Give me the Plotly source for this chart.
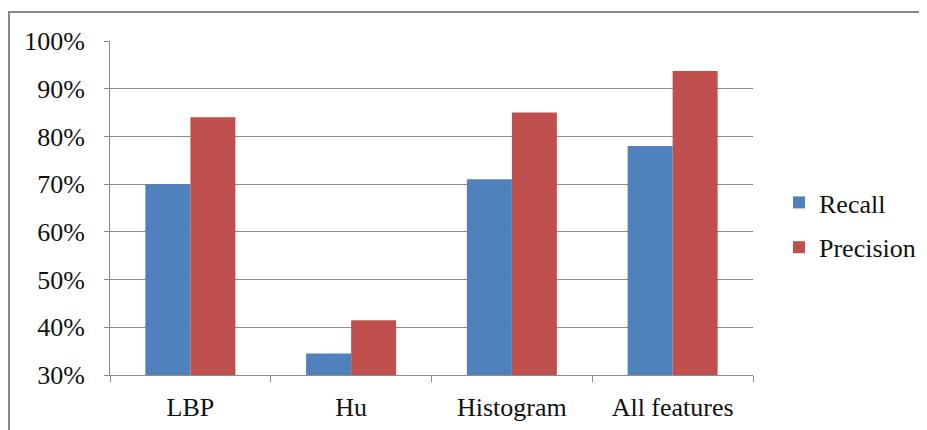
import plotly.graph_objects as go

categories = ["LBP", "Hu", "Histogram", "All features"]
recall = [70, 34.5, 71, 78]
precision = [84, 41.5, 85, 93.7]
y_ticks = [30, 40, 50, 60, 70, 80, 90, 100]
y_tick_labels = [f"{v}%" for v in y_ticks]

FONT = "Liberation Serif"
FS = 26
GRID = "#8c8c8c"
OFF = 8  # page body margin

fig = go.Figure()
fig.add_trace(go.Bar(x=categories, y=recall, name="Recall", marker_color="#4F81BD",
                     marker_line_width=0, legendgroup="a"))
fig.add_trace(go.Bar(x=categories, y=precision, name="Precision", marker_color="#C0504D",
                     marker_line_width=0, legendgroup="b"))

W, H = 927 - OFF, 430 - OFF
L, T = 110 - OFF, 41 - OFF
pw, ph = 643, 334
R, B = W - L - pw, H - T - ph

fig.update_layout(
    width=W, height=H,
    margin=dict(l=L, r=R, t=T, b=B, autoexpand=False),
    paper_bgcolor="white", plot_bgcolor="white",
    barmode="group", bargap=0.44, bargroupgap=0,
    font=dict(family=FONT, size=FS, color="#111111"),
    showlegend=True,
    legend=dict(xref="container", yref="container",
                x=(779 - OFF) / W, y=1 - (225 - OFF) / H, xanchor="left", yanchor="middle",
                font=dict(family=FONT, size=FS, color="#111111"),
                traceorder="grouped", tracegroupgap=8, itemwidth=30,
                bgcolor="rgba(0,0,0,0)"),
    xaxis=dict(type="category", tickson="boundaries", ticks="outside", ticklen=6,
               tickcolor=GRID, showline=True, linecolor=GRID, linewidth=1,
               showgrid=False, tickfont=dict(family=FONT, size=FS, color="#111111"),
               ticklabelstandoff=9, automargin=False),
    yaxis=dict(range=[30, 100], tickvals=y_ticks, ticktext=y_tick_labels,
               ticks="outside", ticklen=5, tickcolor=GRID,
               showline=True, linecolor=GRID, linewidth=1,
               showgrid=True, gridcolor=GRID, gridwidth=1, zeroline=False,
               tickfont=dict(family=FONT, size=FS, color="#111111"),
               ticklabelstandoff=14, automargin=False),
    shapes=[dict(type="rect", xref="paper", yref="paper",
                 x0=(1 - L) / pw, x1=1 + (W + 10 - (L + pw)) / pw,
                 y0=-(H + 10 - (T + ph)) / ph, y1=1 + (T - 4) / ph,
                 line=dict(color="#888888", width=2), layer="below")],
)

fig.write_html("out.html")
